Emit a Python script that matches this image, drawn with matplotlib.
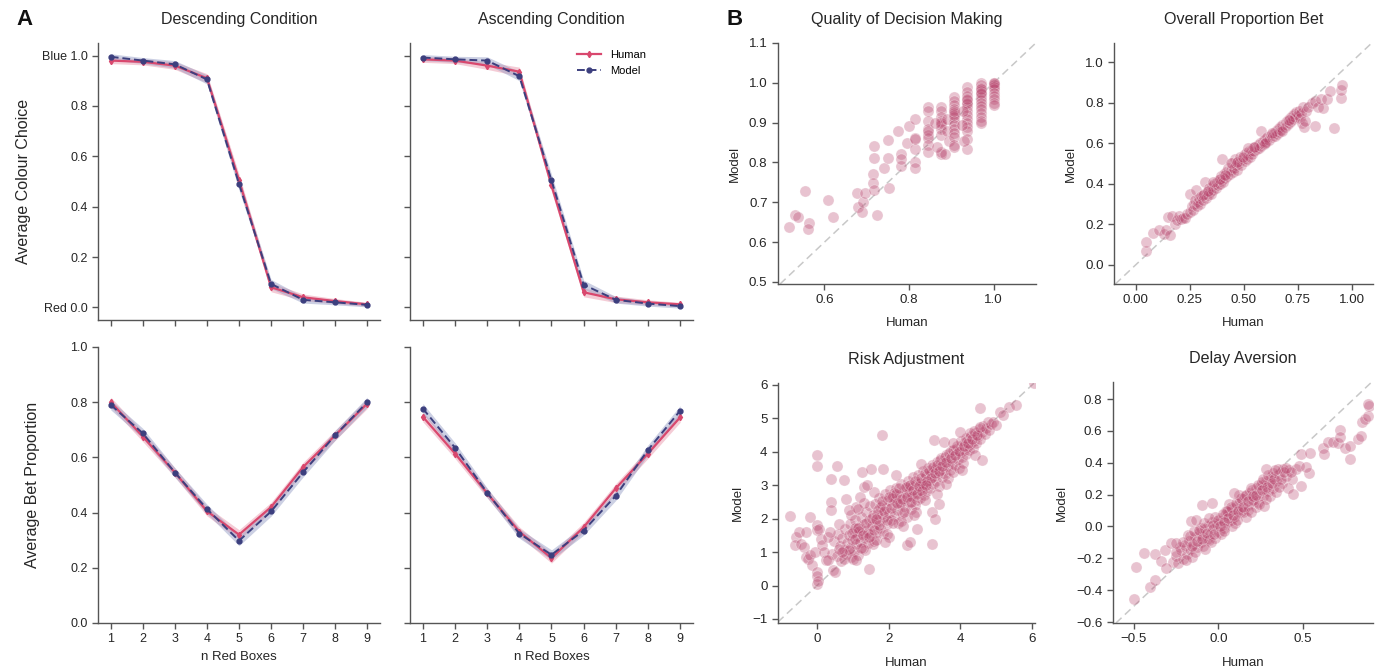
import numpy as np
import matplotlib.pyplot as plt

plt.rcParams['font.family'] = ['Liberation Sans', 'DejaVu Sans']

# ---- panel A data ----
n_red = [1, 2, 3, 4, 5, 6, 7, 8, 9]

desc_colour_human = [0.980, 0.975, 0.960, 0.910, 0.505, 0.080, 0.040, 0.025, 0.012]
desc_colour_model = [0.995, 0.980, 0.965, 0.905, 0.490, 0.093, 0.030, 0.020, 0.010]
asc_colour_human = [0.985, 0.980, 0.960, 0.936, 0.484, 0.060, 0.032, 0.020, 0.012]
asc_colour_model = [0.992, 0.985, 0.980, 0.918, 0.504, 0.090, 0.030, 0.015, 0.005]
colour_err = [0.012, 0.012, 0.015, 0.018, 0.024, 0.018, 0.013, 0.010, 0.008]

desc_bet_human = [0.800, 0.675, 0.545, 0.405, 0.320, 0.420, 0.565, 0.680, 0.795]
desc_bet_model = [0.790, 0.687, 0.545, 0.413, 0.298, 0.404, 0.546, 0.680, 0.800]
asc_bet_human = [0.747, 0.614, 0.470, 0.331, 0.235, 0.347, 0.488, 0.614, 0.745]
asc_bet_model = [0.777, 0.635, 0.472, 0.324, 0.247, 0.335, 0.461, 0.627, 0.769]
bet_err = [0.018, 0.018, 0.017, 0.017, 0.018, 0.017, 0.017, 0.018, 0.018]

# ---- panel B data ----
quality_human = [
    0.517, 0.530, 0.538, 0.555, 0.563, 0.562, 0.608, 0.620, 0.677, 0.679,
    0.688, 0.690, 0.696, 0.714, 0.714, 0.717, 0.718, 0.718, 0.724, 0.740,
    0.750, 0.752, 0.750, 0.773, 0.781, 0.781, 0.781, 0.794, 0.800, 0.813,
    0.813, 0.813, 0.813, 0.813, 0.813, 0.844, 0.844, 0.844, 0.844, 0.844,
    0.844, 0.844, 0.844, 0.844, 0.875, 0.875, 0.875, 0.875, 0.875, 0.875,
    0.875, 0.875, 0.875, 0.875, 0.862, 0.865, 0.885, 0.890, 0.890, 0.895,
    0.906, 0.906, 0.906, 0.906, 0.906, 0.906, 0.906, 0.906, 0.906, 0.906,
    0.906, 0.906, 0.906, 0.906, 0.906, 0.938, 0.938, 0.938, 0.938, 0.938,
    0.938, 0.938, 0.938, 0.938, 0.938, 0.938, 0.938, 0.938, 0.938, 0.938,
    0.938, 0.925, 0.928, 0.930, 0.969, 0.969, 0.969, 0.969, 0.969, 0.969,
    0.969, 0.969, 0.969, 0.969, 0.969, 0.969, 0.969, 0.969, 0.969, 0.969,
    1.000, 1.000, 1.000, 1.000, 1.000, 1.000, 1.000, 1.000, 1.000, 1.000,
    1.000,
]
quality_model = [
    0.638, 0.667, 0.662, 0.728, 0.647, 0.633, 0.705, 0.663, 0.724, 0.687,
    0.676, 0.702, 0.724, 0.772, 0.749, 0.730, 0.842, 0.812, 0.667, 0.785,
    0.810, 0.735, 0.856, 0.879, 0.821, 0.791, 0.808, 0.849, 0.891, 0.910,
    0.862, 0.835, 0.800, 0.785, 0.858, 0.938, 0.928, 0.905, 0.885, 0.870,
    0.862, 0.845, 0.826, 0.880, 0.940, 0.928, 0.915, 0.905, 0.895, 0.885,
    0.870, 0.822, 0.826, 0.900, 0.900, 0.840, 0.820, 0.880, 0.910, 0.855,
    0.965, 0.955, 0.945, 0.935, 0.925, 0.915, 0.905, 0.895, 0.885, 0.875,
    0.865, 0.845, 0.840, 0.920, 0.930, 0.990, 0.978, 0.968, 0.958, 0.948,
    0.940, 0.930, 0.920, 0.910, 0.900, 0.890, 0.880, 0.860, 0.835, 0.950,
    0.960, 0.895, 0.930, 0.855, 1.000, 0.995, 0.988, 0.980, 0.972, 0.965,
    0.958, 0.950, 0.942, 0.935, 0.925, 0.915, 0.905, 0.898, 0.985, 0.975,
    1.000, 0.998, 0.995, 0.990, 0.985, 0.975, 0.968, 0.960, 0.950, 0.945,
    1.000,
]

bet_human = [
    0.046, 0.050, 0.080, 0.110, 0.130, 0.140, 0.150, 0.160, 0.170, 0.180,
    0.190, 0.200, 0.210, 0.220, 0.230, 0.240, 0.250, 0.250, 0.260, 0.265,
    0.270, 0.275, 0.280, 0.285, 0.290, 0.295, 0.300, 0.305, 0.310, 0.315,
    0.320, 0.325, 0.330, 0.335, 0.340, 0.345, 0.350, 0.355, 0.360, 0.365,
    0.370, 0.375, 0.380, 0.385, 0.390, 0.395, 0.400, 0.400, 0.405, 0.410,
    0.415, 0.420, 0.425, 0.430, 0.435, 0.440, 0.445, 0.450, 0.455, 0.460,
    0.465, 0.470, 0.475, 0.480, 0.485, 0.490, 0.495, 0.500, 0.505, 0.510,
    0.515, 0.520, 0.525, 0.530, 0.535, 0.540, 0.545, 0.550, 0.555, 0.560,
    0.565, 0.570, 0.575, 0.580, 0.580, 0.590, 0.595, 0.600, 0.605, 0.610,
    0.620, 0.625, 0.630, 0.640, 0.645, 0.650, 0.655, 0.660, 0.665, 0.670,
    0.675, 0.680, 0.690, 0.695, 0.700, 0.705, 0.710, 0.715, 0.720, 0.725,
    0.730, 0.735, 0.740, 0.745, 0.750, 0.755, 0.760, 0.765, 0.770, 0.775,
    0.780, 0.785, 0.790, 0.800, 0.815, 0.830, 0.830, 0.845, 0.860, 0.870,
    0.885, 0.900, 0.920, 0.950, 0.950, 0.955, 0.360, 0.440, 0.520, 0.600,
    0.680, 0.310, 0.390, 0.470, 0.550, 0.630, 0.710, 0.335, 0.415, 0.495,
]
bet_model = [
    0.070, 0.115, 0.156, 0.170, 0.150, 0.170, 0.235, 0.145, 0.240, 0.200,
    0.220, 0.240, 0.225, 0.230, 0.230, 0.250, 0.260, 0.350, 0.290, 0.270,
    0.300, 0.320, 0.370, 0.290, 0.310, 0.330, 0.300, 0.340, 0.320, 0.350,
    0.410, 0.330, 0.360, 0.345, 0.380, 0.360, 0.350, 0.390, 0.370, 0.400,
    0.380, 0.410, 0.395, 0.420, 0.400, 0.440, 0.520, 0.420, 0.410, 0.450,
    0.430, 0.460, 0.440, 0.480, 0.450, 0.470, 0.500, 0.460, 0.480, 0.520,
    0.490, 0.470, 0.510, 0.500, 0.530, 0.490, 0.520, 0.540, 0.510, 0.550,
    0.520, 0.540, 0.560, 0.530, 0.560, 0.545, 0.575, 0.560, 0.580, 0.570,
    0.590, 0.575, 0.600, 0.660, 0.585, 0.610, 0.595, 0.620, 0.605, 0.630,
    0.615, 0.640, 0.630, 0.650, 0.635, 0.660, 0.645, 0.670, 0.655, 0.680,
    0.665, 0.690, 0.680, 0.705, 0.690, 0.715, 0.700, 0.725, 0.710, 0.735,
    0.720, 0.745, 0.730, 0.755, 0.740, 0.760, 0.725, 0.750, 0.700, 0.780,
    0.680, 0.710, 0.760, 0.780, 0.800, 0.685, 0.810, 0.780, 0.820, 0.775,
    0.820, 0.855, 0.675, 0.825, 0.860, 0.885, 0.410, 0.500, 0.575, 0.600,
    0.660, 0.345, 0.425, 0.505, 0.580, 0.650, 0.715, 0.365, 0.445, 0.530,
]

risk_human = [
    0.42, 0.48, 0.55, 0.58, 0.63, 0.66, 0.71, 0.74, 0.78, 0.82,
    0.85, 0.88, 0.91, 0.93, 0.96, 0.98, 1.02, 1.04, 1.07, 1.09,
    1.12, 1.15, 1.17, 1.20, 1.23, 1.26, 1.28, 1.31, 1.34, 1.37,
    1.39, 1.42, 1.45, 1.47, 1.50, 1.53, 1.55, 1.58, 1.61, 1.63,
    1.66, 1.69, 1.72, 1.74, 1.77, 1.80, 1.82, 1.85, 1.88, 1.90,
    1.93, 1.96, 1.99, 2.02, 2.04, 2.07, 2.10, 2.12, 2.15, 2.18,
    2.21, 2.23, 2.26, 2.29, 2.31, 2.34, 2.37, 2.40, 2.42, 2.45,
    2.48, 2.50, 2.53, 2.56, 2.58, 2.61, 2.64, 2.66, 2.69, 2.72,
    2.74, 2.77, 2.80, 2.83, 2.85, 2.88, 2.91, 2.94, 2.96, 2.99,
    3.02, 3.05, 3.07, 3.10, 3.13, 3.15, 3.18, 3.21, 3.24, 3.26,
    3.29, 3.32, 3.35, 3.37, 3.40, 3.43, 3.46, 3.48, 3.51, 3.54,
    3.57, 3.60, 3.62, 3.65, 3.68, 3.71, 3.74, 3.77, 3.80, 3.83,
    3.86, 3.89, 3.92, 3.95, 3.98, 4.01, 4.04, 4.07, 4.10, 4.13,
    4.16, 4.19, 4.22, 4.25, 4.28, 4.31, 4.34, 4.37, 4.40, 4.44,
    4.48, 4.52, 4.56, 4.60, 4.64, 4.68, 4.72, 4.76, 4.80, 4.85,
    1.05, 1.35, 1.55, 1.75, 1.95, 2.15, 2.35, 2.55, 2.75, 2.95,
    0.62, 0.75, 0.95, 1.18, 1.43, 1.65, 2.08, 2.32, 2.62, 2.86,
    0.88, 0.97, 1.06, 1.14, 1.22, 1.29, 1.36, 1.44, 1.52, 1.59,
    1.67, 1.73, 1.81, 1.87, 1.94, 2.01, 2.06, 2.13, 2.19, 2.24,
    2.28, 2.36, 2.43, 2.47, 2.52, 2.59, 2.63, 2.68, 2.73, 2.79,
    2.84, 2.89, 2.93, 3.01, 3.06, 3.12, 3.17, 3.23, 3.28, 3.34,
    3.39, 3.44, 3.50, 3.56, 3.61, 3.67, 3.73, 3.79, 3.85, 3.91,
    3.97, 4.03, 4.09, 4.15, 4.21, 4.27, 4.33, 4.39, 4.46, 4.54,
    1.10, 1.32, 1.60, 2.00, 2.40, 2.70, 3.00, 3.35, 3.60, 4.05,
    -0.75, -0.60, -0.62, -0.50, -0.45, -0.30, -0.20, -0.35, -0.30, -0.25,
    -0.20, -0.15, -0.05, 0.00, 0.00, 0.00, 0.00, 0.00, 0.00, 0.00,
    0.02, 0.05, 0.10, 0.15, 0.20, 0.25, 0.30, 0.30, 0.35, 0.38,
    0.40, 0.40, 0.45, 0.50, 0.57, 0.60, 0.70, 0.75, 0.80, 0.90,
    1.00, 1.10, 1.15, 1.20, 1.25, 1.30, 1.40, 1.50, 1.45, 1.65,
    1.80, 1.85, 1.90, 2.20, 2.50, 2.60, 2.80, 2.90, 3.05, 3.20,
    3.20, 3.30, 3.40, 3.25, 3.55, 3.80, 4.00, 4.40, 4.60, 4.55,
    4.90, 5.10, 5.00, 5.35, 5.55, 6.05, 5.20,
]
risk_model = [
    0.95, 1.32, 0.88, 1.55, 1.18, 0.72, 1.42, 1.05, 1.68, 0.93,
    1.27, 1.51, 1.12, 1.84, 0.85, 1.36, 1.63, 1.02, 1.95, 1.24,
    1.48, 0.92, 1.76, 1.31, 2.05, 1.58, 1.12, 1.84, 1.41, 2.21,
    1.67, 1.26, 1.95, 2.38, 1.52, 1.78, 2.12, 1.33, 2.45, 1.88,
    1.61, 2.27, 1.95, 2.62, 1.72, 2.14, 2.41, 1.58, 2.05, 2.73,
    2.31, 1.84, 2.56, 2.18, 2.85, 1.97, 2.42, 2.68, 2.08, 2.53,
    2.92, 2.25, 1.86, 2.71, 2.44, 3.05, 2.16, 2.62, 2.88, 2.35,
    2.74, 2.05, 3.12, 2.51, 2.83, 2.28, 2.96, 2.65, 3.25, 2.42,
    2.78, 3.04, 2.55, 3.32, 2.86, 2.62, 3.14, 2.95, 3.42, 2.71,
    3.08, 3.28, 2.84, 3.51, 3.16, 2.93, 3.38, 3.62, 3.05, 3.27,
    3.48, 3.14, 3.71, 3.36, 2.98, 3.56, 3.82, 3.25, 3.47, 3.68,
    3.34, 3.92, 3.58, 3.21, 3.77, 3.45, 4.02, 3.66, 3.41, 3.87,
    3.62, 4.08, 3.78, 3.52, 3.95, 4.18, 3.84, 3.66, 4.06, 4.27,
    3.93, 4.15, 4.38, 4.04, 4.24, 4.46, 4.12, 4.33, 4.55, 4.26,
    4.48, 4.67, 4.38, 4.59, 4.78, 4.52, 4.71, 4.88, 4.65, 4.82,
    1.72, 1.05, 1.25, 2.35, 1.55, 2.78, 1.92, 2.98, 2.21, 3.05,
    1.85, 0.78, 2.10, 1.62, 1.58, 1.35, 2.62, 2.48, 2.68, 3.08,
    1.05, 1.58, 1.38, 1.71, 1.12, 1.52, 1.88, 1.44, 2.02, 1.66,
    2.15, 1.82, 2.52, 2.22, 1.96, 2.64, 2.31, 1.88, 2.75, 2.47,
    2.92, 2.58, 2.21, 2.95, 2.66, 3.02, 2.49, 2.86, 3.12, 2.74,
    2.98, 3.22, 2.82, 3.36, 3.12, 3.45, 3.22, 3.55, 3.38, 3.62,
    3.44, 3.75, 3.58, 3.85, 3.71, 3.96, 3.82, 4.05, 3.92, 4.18,
    4.02, 4.32, 4.16, 4.42, 4.26, 4.55, 4.38, 4.62, 4.50, 4.75,
    2.35, 2.48, 2.80, 1.45, 1.78, 2.10, 2.55, 2.75, 3.05, 3.45,
    2.08, 1.45, 1.20, 1.60, 1.25, 1.60, 2.05, 1.15, 0.85, 0.80,
    0.90, 0.60, 1.00, 3.90, 3.58, 1.80, 1.65, 0.40, 0.30, 0.05,
    0.15, 1.70, 1.40, 1.20, 1.00, 0.75, 0.75, 1.45, 1.60, 2.50,
    3.18, 2.25, 0.45, 0.40, 3.58, 1.10, 1.00, 3.15, 2.60, 2.25,
    0.80, 0.75, 2.30, 2.65, 3.40, 2.95, 3.00, 3.50, 0.50, 2.00,
    4.50, 3.50, 1.30, 3.30, 1.20, 1.30, 1.70, 3.65, 3.00, 1.25,
    2.20, 2.00, 2.45, 4.35, 4.30, 4.25, 4.60, 3.90, 3.75, 5.30,
    4.90, 5.20, 4.80, 5.35, 5.40, 6.05, 5.10,
]

delay_human = [
    -0.270, -0.252, -0.238, -0.222, -0.208, -0.198, -0.186, -0.177, -0.166, -0.158,
    -0.148, -0.139, -0.127, -0.118, -0.106, -0.097, -0.089, -0.078, -0.069, -0.061,
    -0.052, -0.041, -0.033, -0.022, -0.011, 0.003, 0.012, 0.021, 0.033, 0.041,
    0.052, 0.061, 0.072, 0.079, 0.091, 0.102, 0.111, 0.119, 0.131, 0.142,
    0.151, 0.158, 0.172, 0.181, 0.192, 0.199, 0.212, 0.221, 0.231, 0.242,
    0.249, 0.262, 0.271, 0.279, 0.292, 0.301, 0.312, 0.322, 0.338, 0.357,
    0.378, 0.398, 0.418, 0.437, 0.458, 0.476, 0.302, 0.221, 0.143, 0.062,
    -0.018, -0.102, -0.182, 0.098, 0.177, 0.258, 0.342, 0.018, -0.058, -0.138,
    0.122, 0.203, 0.283, 0.042, -0.042, 0.082, 0.163, 0.238, 0.322, 0.383,
    -0.230, -0.210, -0.190, -0.170, -0.155, -0.145, -0.125, -0.115, -0.095, -0.085,
    -0.065, -0.055, -0.035, -0.025, -0.005, 0.008, 0.025, 0.035, 0.048, 0.058,
    0.075, 0.085, 0.105, 0.115, 0.135, 0.145, 0.165, 0.175, 0.195, 0.205,
    0.225, 0.235, 0.255, 0.265, 0.285, 0.295, 0.315, 0.330, 0.350, 0.370,
    0.390, 0.410, 0.430, 0.360, 0.270, 0.190, 0.110, 0.030, -0.080, -0.250,
    -0.500, -0.486, -0.443, -0.407, -0.378, -0.378, -0.318, -0.338, -0.309, -0.283,
    -0.250, -0.160, -0.130, -0.100, -0.037, 0.092, 0.283, 0.332, 0.400, 0.440,
    0.490, 0.490, 0.543, 0.535, 0.520, 0.618, 0.627, 0.648, 0.677, 0.707,
    0.717, 0.717, 0.746, 0.776, 0.780, 0.826, 0.845, 0.851, 0.865, 0.885,
    0.890, 0.885,
]
delay_model = [
    -0.222, -0.183, -0.231, -0.148, -0.203, -0.118, -0.172, -0.092, -0.141, -0.192,
    -0.108, -0.068, -0.132, -0.042, -0.098, -0.058, -0.121, -0.018, -0.081, 0.004,
    -0.047, 0.028, -0.019, -0.071, 0.017, -0.032, 0.053, 0.008, -0.012, 0.071,
    0.028, 0.092, 0.041, 0.112, 0.058, 0.128, 0.082, 0.148, 0.098, 0.172,
    0.118, 0.188, 0.137, 0.208, 0.158, 0.228, 0.182, 0.241, 0.152, 0.209,
    0.262, 0.188, 0.238, 0.288, 0.221, 0.268, 0.308, 0.242, 0.288, 0.331,
    0.272, 0.318, 0.352, 0.298, 0.361, 0.382, 0.188, 0.121, 0.088, 0.142,
    0.058, -0.012, -0.052, 0.022, 0.101, 0.278, 0.218, -0.048, -0.088, -0.158,
    0.198, 0.168, 0.171, 0.098, -0.098, 0.004, 0.061, 0.142, 0.338, 0.362,
    -0.130, -0.100, -0.210, -0.060, -0.120, -0.030, -0.090, -0.020, -0.080, 0.020,
    -0.040, 0.050, 0.010, -0.050, 0.040, 0.000, 0.080, 0.030, 0.100, 0.050,
    0.120, 0.070, 0.150, 0.100, 0.180, 0.120, 0.200, 0.160, 0.240, 0.190,
    0.200, 0.260, 0.230, 0.300, 0.250, 0.320, 0.270, 0.300, 0.360, 0.300,
    0.340, 0.240, 0.340, 0.250, 0.130, 0.090, 0.040, -0.030, -0.140, -0.160,
    -0.454, -0.254, -0.166, -0.380, -0.334, -0.174, -0.149, -0.216, -0.258, -0.107,
    -0.103, 0.036, 0.040, 0.134, 0.145, 0.208, 0.359, 0.355, 0.370, 0.204,
    0.456, 0.254, 0.460, 0.338, 0.372, 0.490, 0.454, 0.527, 0.527, 0.523,
    0.603, 0.559, 0.490, 0.422, 0.508, 0.548, 0.565, 0.653, 0.674, 0.691,
    0.758, 0.771,
]

HUMAN = '#d9486e'
MODEL = '#3c3f7e'
HUMAN_BAND = '#e88fa5'
MODEL_BAND = '#8e97c2'
DOT = '#b8456d'
SPINE = '#555555'
TXT = '#262626'


def style_axes(ax, size=9):
    for side in ('top', 'right'):
        ax.spines[side].set_visible(False)
    for side in ('left', 'bottom'):
        ax.spines[side].set_color(SPINE)
        ax.spines[side].set_linewidth(1.0)
    ax.tick_params(direction='out', length=4, width=1.0, color=SPINE,
                   labelcolor=TXT, labelsize=size)


def line_panel(ax, human, model, err, label=False):
    n = np.array(n_red)
    h = np.array(human)
    m = np.array(model)
    e = np.array(err)
    ax.fill_between(n, h - e, h + e, color=HUMAN_BAND, alpha=0.45, lw=0)
    ax.fill_between(n, m - e, m + e, color=MODEL_BAND, alpha=0.45, lw=0)
    ax.plot(n, h, color=HUMAN, lw=1.6, marker='d', ms=3.2,
            label='Human' if label else None)
    ax.plot(n, m, color=MODEL, lw=1.4, ls=(0, (4, 2)), marker='o', ms=3.5,
            label='Model' if label else None)
    ax.set_xlim(0.6, 9.4)
    ax.set_xticks(n_red)
    style_axes(ax)


fig = plt.figure(figsize=(13.86, 6.68), dpi=100)

ax_dc = fig.add_axes([0.0707, 0.521, 0.2035, 0.4147])
ax_ac = fig.add_axes([0.2958, 0.521, 0.2042, 0.4147])
ax_db = fig.add_axes([0.0707, 0.0674, 0.2035, 0.4132])
ax_ab = fig.add_axes([0.2958, 0.0674, 0.2042, 0.4132])

line_panel(ax_dc, desc_colour_human, desc_colour_model, colour_err)
line_panel(ax_ac, asc_colour_human, asc_colour_model, colour_err, label=True)
line_panel(ax_db, desc_bet_human, desc_bet_model, bet_err)
line_panel(ax_ab, asc_bet_human, asc_bet_model, bet_err)

for ax in (ax_dc, ax_ac):
    ax.set_ylim(-0.05, 1.05)
    ax.set_yticks([0, 0.2, 0.4, 0.6, 0.8, 1.0])
    ax.set_xticklabels([])
ax_dc.set_yticklabels(['Red 0.0', '0.2', '0.4', '0.6', '0.8', 'Blue 1.0'])
ax_ac.set_yticklabels([])
ax_dc.set_title('Descending Condition', fontsize=11.5, color=TXT, pad=14)
ax_ac.set_title('Ascending Condition', fontsize=11.5, color=TXT, pad=14)
ax_dc.set_ylabel('Average Colour Choice', fontsize=11.5, color=TXT, labelpad=8)

for ax in (ax_db, ax_ab):
    ax.set_ylim(0, 1.0)
    ax.set_yticks([0, 0.2, 0.4, 0.6, 0.8, 1.0])
    ax.set_xlabel('n Red Boxes', fontsize=9.5, color=TXT)
ax_db.set_yticklabels(['0.0', '0.2', '0.4', '0.6', '0.8', '1.0'])
ax_ab.set_yticklabels([])
ax_db.set_ylabel('Average Bet Proportion', fontsize=11.5, color=TXT, labelpad=22)

ax_ac.legend(loc='upper right', bbox_to_anchor=(0.87, 1.01), frameon=False,
             fontsize=8, handlelength=2.2)

# ---- panel B ----
ax_q = fig.add_axes([0.5613, 0.5749, 0.1861, 0.3608])
ax_o = fig.add_axes([0.8038, 0.5749, 0.1869, 0.3608])
ax_r = fig.add_axes([0.5613, 0.0674, 0.1854, 0.3593])
ax_d = fig.add_axes([0.8030, 0.0674, 0.1876, 0.3608])

scatter_specs = [
    (ax_q, quality_human, quality_model, 'Quality of Decision Making',
     (0.49, 1.10), (0.495, 1.10), [0.6, 0.8, 1.0],
     [0.5, 0.6, 0.7, 0.8, 0.9, 1.0, 1.1], '{:.1f}', '{:.1f}'),
    (ax_o, bet_human, bet_model, 'Overall Proportion Bet',
     (-0.10, 1.10), (-0.094, 1.094), [0.0, 0.25, 0.5, 0.75, 1.0],
     [0.0, 0.2, 0.4, 0.6, 0.8, 1.0], '{:.2f}', '{:.1f}'),
    (ax_r, risk_human, risk_model, 'Risk Adjustment',
     (-1.09, 6.08), (-1.12, 6.06), [0, 2, 4, 6],
     [-1, 0, 1, 2, 3, 4, 5, 6], '{:.0f}', '{:.0f}'),
    (ax_d, delay_human, delay_model, 'Delay Aversion',
     (-0.624, 0.914), (-0.606, 0.907), [-0.5, 0.0, 0.5],
     [-0.6, -0.4, -0.2, 0.0, 0.2, 0.4, 0.6, 0.8], '{:.1f}', '{:.1f}'),
]

for ax, xs, ys, title, xl, yl, xt, yt, xf, yf in scatter_specs:
    ax.set_xlim(*xl)
    ax.set_ylim(*yl)
    lo = min(xl[0], yl[0])
    ax.axline((lo, lo), slope=1, color='#c8c8c8', ls=(0, (5, 3)), lw=1.1, zorder=1)
    ax.scatter(xs, ys, s=64, color=DOT, alpha=0.32, edgecolor='white',
               linewidth=0.6, zorder=2)
    ax.set_xticks(xt)
    ax.set_xticklabels([xf.format(v).replace('-', '\u2212') for v in xt])
    ax.set_yticks(yt)
    ax.set_yticklabels([yf.format(v).replace('-', '\u2212') for v in yt])
    ax.set_title(title, fontsize=11.6, color=TXT, pad=14)
    ax.set_xlabel('Human', fontsize=9.5, color=TXT, labelpad=8)
    ax.set_ylabel('Model', fontsize=9.5, color=TXT, labelpad=6)
    style_axes(ax, size=9.6)

fig.text(0.012, 0.962, 'A', fontsize=16, fontweight='bold', color='#111111')
fig.text(0.524, 0.962, 'B', fontsize=16, fontweight='bold', color='#111111')

fig.savefig('out.png', dpi=100)
